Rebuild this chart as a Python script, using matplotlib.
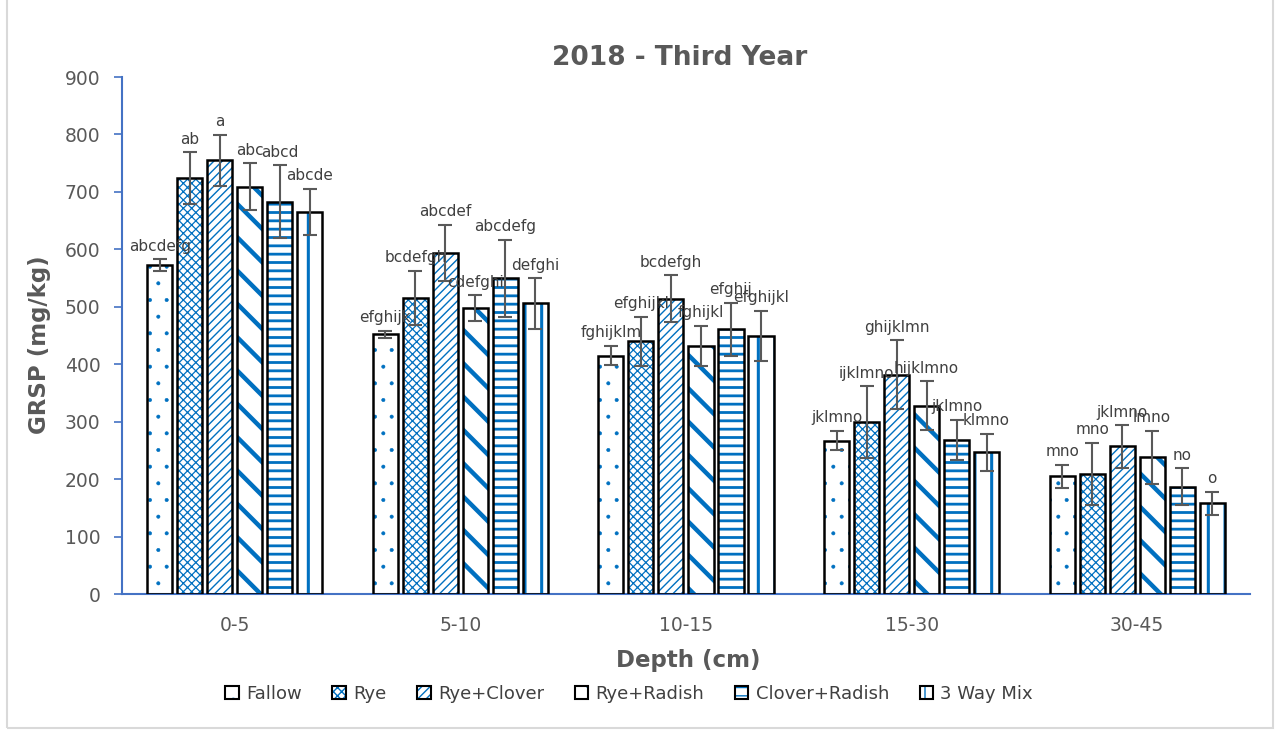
import numpy as np
import matplotlib
matplotlib.use("Agg")
import matplotlib.pyplot as plt
from matplotlib.patches import Patch, Rectangle
from matplotlib.legend_handler import HandlerTuple

# depth groups and treatments
depths = ["0-5", "5-10", "10-15", "15-30", "30-45"]
treatments = ["Fallow", "Rye", "Rye+Clover", "Rye+Radish", "Clover+Radish", "3 Way Mix"]

# GRSP means (mg/kg)
fallow = [573, 452, 415, 267, 205]
rye = [724, 516, 440, 299, 209]
rye_clover = [755, 594, 514, 382, 257]
rye_radish = [709, 498, 432, 328, 238]
clover_radish = [683, 550, 461, 268, 187]
three_way = [665, 506, 449, 247, 158]

# error bar half-lengths
fallow_err = [10, 6, 17, 17, 20]
rye_err = [45, 47, 43, 63, 54]
rye_clover_err = [44, 49, 41, 60, 37]
rye_radish_err = [41, 22, 35, 42, 46]
clover_radish_err = [63, 67, 46, 35, 32]
three_way_err = [40, 44, 44, 32, 20]

# significance letters
fallow_let = ["abcdefg", "efghijk", "fghijklm", "jklmno", "mno"]
rye_let = ["ab", "bcdefgh", "efghijkl", "ijklmno", "mno"]
rye_clover_let = ["a", "abcdef", "bcdefgh", "ghijklmn", "jklmno"]
rye_radish_let = ["abc", "cdefghi", "fghijkl", "hijklmno", "lmno"]
clover_radish_let = ["abcd", "abcdefg", "efghij", "jklmno", "no"]
three_way_let = ["abcde", "defghi", "efghijkl", "klmno", "o"]

values = [fallow, rye, rye_clover, rye_radish, clover_radish, three_way]
errors = [fallow_err, rye_err, rye_clover_err, rye_radish_err, clover_radish_err, three_way_err]
letters = [fallow_let, rye_let, rye_clover_let, rye_radish_let, clover_radish_let, three_way_let]

# hatch pattern and hatch line width per treatment
hatches = [".", "xxxx", "////", "\\", "--", "|"]
hatch_lw = [0.4, 0.9, 1.0, 3.2, 2.0, 2.2]

blue = "#0070C0"
axis_blue = "#4472C4"
grey = "#595959"

fig = plt.figure(figsize=(12.76, 7.32), dpi=100)
ax = fig.add_axes([0.0956, 0.1885, 0.884, 0.7063])

x = np.arange(len(depths))
step = 0.133
width = 0.111

handles = []
for i, name in enumerate(treatments):
    pos = x + (i - 2.5) * step
    with plt.rc_context({"hatch.linewidth": hatch_lw[i]}):
        fill = ax.bar(pos, values[i], width, color="white", edgecolor=blue,
                      hatch=hatches[i], linewidth=0, zorder=2)
    for b in fill:
        if hasattr(b, "set_hatch_linewidth"):
            b.set_hatch_linewidth(hatch_lw[i])
    ax.bar(pos, values[i], width, fill=False, edgecolor="black",
           linewidth=1.8, zorder=3)
    ax.errorbar(pos, values[i], yerr=errors[i], fmt="none", ecolor=grey,
                elinewidth=1.5, capsize=5, capthick=1.5, zorder=4)
    for xp, v, e, t in zip(pos, values[i], errors[i], letters[i]):
        ax.annotate(t, (xp, v + e), xytext=(0, 4), textcoords="offset points",
                    ha="center", va="bottom", fontsize=11, color="#404040",
                    zorder=5)
    with plt.rc_context({"hatch.linewidth": hatch_lw[i]}):
        h1 = Patch(facecolor="white", edgecolor=blue, hatch=hatches[i], linewidth=0)
        h2 = Patch(fill=False, edgecolor="black", linewidth=1.5)
    if hasattr(h1, "set_hatch_linewidth"):
        h1.set_hatch_linewidth(hatch_lw[i])
    handles.append((h1, h2))

ax.set_xlim(-0.5, 4.5)
ax.set_ylim(0, 900)
ax.set_yticks(range(0, 901, 100))
ax.set_xticks(x)
ax.set_xticklabels(depths)

for s in ["top", "right"]:
    ax.spines[s].set_visible(False)
for s in ["left", "bottom"]:
    ax.spines[s].set_color(axis_blue)
    ax.spines[s].set_linewidth(1.5)

ax.tick_params(axis="y", colors=axis_blue, labelcolor=grey, length=5.5,
               width=1.2, labelsize=13.5, pad=10)
ax.tick_params(axis="x", length=0, labelcolor=grey, labelsize=13.5, pad=16)

fig.text(0.533, 0.921, "2018 - Third Year", ha="center", va="center",
         fontsize=19, fontweight="bold", color=grey)
fig.text(0.539, 0.098, "Depth (cm)", ha="center", va="center",
         fontsize=16.5, fontweight="bold", color=grey)
fig.text(0.031, 0.529, "GRSP (mg/kg)", ha="center", va="center", rotation=90,
         fontsize=16.5, fontweight="bold", color=grey)

leg = fig.legend(handles, treatments, loc="center", bbox_to_anchor=(0.493, 0.052),
                 ncol=6, frameon=False, fontsize=13, handlelength=0.75,
                 handleheight=0.75, handletextpad=0.4, columnspacing=1.7,
                 handler_map={tuple: HandlerTuple(ndivide=1, pad=0)})
for t in leg.get_texts():
    t.set_color("#404040")

# light chart-area border
fig.patches.append(Rectangle((7 / 1276, 4 / 732), 1266 / 1276, 1.0,
                             transform=fig.transFigure, fill=False,
                             edgecolor="#D9D9D9", linewidth=1.5))

fig.savefig("out.png", dpi=100)
